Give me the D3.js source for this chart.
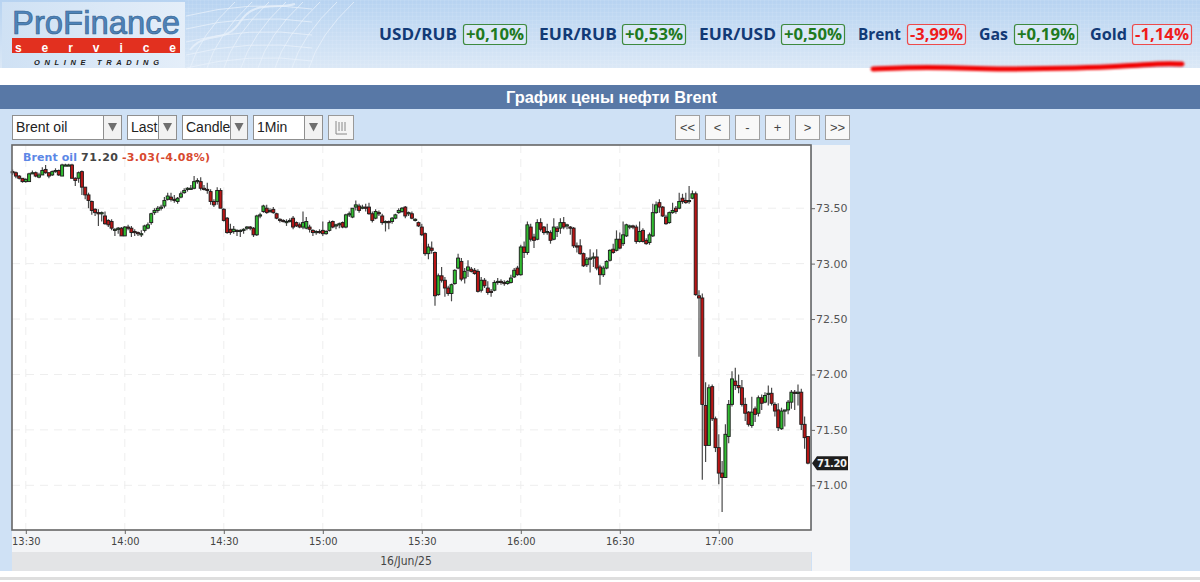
<!DOCTYPE html>
<html><head><meta charset="utf-8">
<script src="https://cdn.jsdelivr.net/npm/d3@7"></script>
<style>html,body{margin:0;padding:0;background:#fff;overflow:hidden}svg{display:block}</style>
</head><body><svg id="c" width="1200" height="582"></svg>
<script>
const tickerNames=["USD/RUB","EUR/RUB","EUR/USD","Brent","Gas","Gold"];
const tickerChanges=["+0,10%","+0,53%","+0,50%","-3,99%","+0,19%","-1,14%"];
const selectLabels=["Brent oil","Last","Candle","1Min"];
const navLabels=["<<","<","-","+",">",">>"];
const priceTicks=[73.5,73,72.5,72,71.5,71];
const timeTicks=["13:30","14:00","14:30","15:00","15:30","16:00","16:30","17:00"];
const firstMinute="13:26";
const opens=[73.83,73.82,73.79,73.77,73.74,73.74,73.81,73.82,73.78,73.80,
73.85,73.82,73.80,73.83,73.84,73.79,73.89,73.89,73.89,73.77,
73.77,73.83,73.69,73.62,73.56,73.49,73.46,73.45,73.43,73.39,
73.38,73.31,73.31,73.32,73.25,73.33,73.32,73.29,73.28,73.27,
73.30,73.32,73.37,73.46,73.48,73.50,73.52,73.58,73.60,73.58,
73.56,73.60,73.64,73.67,73.68,73.68,73.74,73.74,73.68,73.67,
73.65,73.56,73.56,73.66,73.49,73.41,73.31,73.29,73.30,73.29,
73.30,73.32,73.33,73.32,73.26,73.43,73.47,73.50,73.48,73.49,
73.45,73.40,73.39,73.38,73.38,73.41,73.37,73.35,73.33,73.32,
73.33,73.30,73.28,73.29,73.30,73.27,73.30,73.38,73.34,73.35,
73.37,73.33,73.44,73.42,73.51,73.52,73.50,73.51,73.51,73.45,
73.41,73.46,73.43,73.37,73.38,73.38,73.41,73.46,73.47,73.51,
73.45,73.45,73.40,73.37,73.33,73.27,73.09,73.14,73.10,72.72,
72.89,72.85,72.78,72.73,72.82,72.96,73.02,72.87,72.94,72.95,
72.94,72.93,72.76,72.85,72.78,72.75,72.76,72.83,72.84,72.83,
72.82,72.83,72.88,72.96,72.90,73.15,73.10,73.33,73.24,73.22,
73.37,73.33,73.29,73.28,73.22,73.32,73.32,73.37,73.34,73.33,
73.32,73.16,73.16,73.09,72.99,73.04,73.05,73.06,72.97,72.90,
72.96,73.03,73.13,73.12,73.22,73.18,73.25,73.33,73.34,73.33,
73.20,73.30,73.21,73.19,73.25,73.46,73.55,73.51,73.42,73.37,
73.46,73.50,73.50,73.59,73.57,73.56,73.59,73.63,72.71,72.69,
71.72,71.36,71.89,71.60,71.34,71.11,71.07,71.44,71.73,71.94,
71.90,71.88,71.73,71.66,71.54,71.69,71.65,71.79,71.75,71.82,
71.83,71.73,71.68,71.51,71.67,71.68,71.75,71.84,71.83,71.84,71.55,71.44];
const highs=[73.85,73.83,73.80,73.77,73.77,73.82,73.84,73.83,73.82,73.87,
73.89,73.82,73.84,73.86,73.85,73.90,73.90,73.90,73.90,73.78,
73.83,73.84,73.69,73.64,73.57,73.50,73.49,73.47,73.47,73.40,
73.40,73.32,73.33,73.33,73.34,73.35,73.34,73.31,73.29,73.30,
73.35,73.37,73.46,73.50,73.52,73.53,73.60,73.64,73.64,73.62,
73.60,73.65,73.68,73.69,73.71,73.79,73.77,73.78,73.71,73.73,
73.67,73.58,73.69,73.68,73.50,73.42,73.36,73.34,73.31,73.31,
73.32,73.34,73.34,73.33,73.44,73.46,73.53,73.53,73.50,73.51,
73.46,73.41,73.40,73.40,73.41,73.43,73.38,73.37,73.47,73.42,
73.35,73.31,73.30,73.31,73.38,73.30,73.39,73.39,73.36,73.37,
73.38,73.45,73.47,73.50,73.57,73.54,73.53,73.54,73.55,73.47,
73.49,73.48,73.45,73.39,73.39,73.42,73.45,73.50,73.51,73.52,
73.47,73.47,73.41,73.38,73.36,73.28,73.18,73.20,73.11,72.91,
72.97,72.88,72.80,72.82,72.95,73.09,73.05,72.96,73.03,72.97,
72.96,72.95,72.88,72.87,72.84,72.77,72.85,72.87,72.86,72.85,
72.85,72.90,72.96,72.98,73.17,73.20,73.38,73.36,73.27,73.40,
73.41,73.34,73.36,73.30,73.41,73.34,73.41,73.42,73.36,73.34,
73.33,73.19,73.22,73.10,73.06,73.13,73.10,73.13,72.99,72.98,
73.03,73.13,73.18,73.30,73.28,73.38,73.36,73.35,73.35,73.35,
73.38,73.32,73.23,73.28,73.54,73.56,73.58,73.52,73.44,73.47,
73.55,73.52,73.64,73.63,73.64,73.70,73.66,73.65,72.76,72.73,
71.93,71.91,71.91,71.62,71.46,71.22,71.55,71.77,72.03,72.06,
72.00,71.95,71.79,71.67,71.80,71.71,71.81,71.82,71.84,71.90,
71.88,71.75,71.74,71.70,71.68,71.77,71.86,71.86,71.91,71.87,71.62,71.44];
const lows=[73.80,73.77,73.76,73.73,73.73,73.74,73.81,73.78,73.77,73.80,
73.81,73.77,73.79,73.82,73.79,73.79,73.88,73.88,73.77,73.70,
73.73,73.62,73.58,73.50,73.44,73.43,73.34,73.38,73.35,73.33,
73.30,73.25,73.27,73.25,73.25,73.30,73.24,73.25,73.25,73.24,
73.28,73.31,73.35,73.44,73.46,73.48,73.50,73.57,73.56,73.55,
73.54,73.59,73.63,73.65,73.67,73.67,73.72,73.66,73.66,73.63,
73.53,73.51,73.53,73.50,73.38,73.27,73.26,73.27,73.25,73.24,
73.27,73.30,73.30,73.24,73.25,73.41,73.46,73.45,73.46,73.45,
73.40,73.37,73.37,73.34,73.37,73.31,73.33,73.32,73.31,73.31,
73.28,73.25,73.26,73.27,73.25,73.26,73.29,73.32,73.31,73.32,
73.32,73.32,73.42,73.41,73.48,73.46,73.49,73.47,73.44,73.37,
73.40,73.43,73.35,73.29,73.31,73.36,73.40,73.45,73.46,73.41,
73.43,73.40,73.38,73.33,73.25,73.07,73.04,73.09,72.62,72.71,
72.83,72.70,72.71,72.66,72.81,72.95,72.84,72.82,72.88,72.92,
72.90,72.74,72.74,72.78,72.72,72.70,72.75,72.81,72.81,72.80,
72.81,72.82,72.87,72.89,72.89,73.05,73.08,73.20,73.14,73.21,
73.29,73.26,73.26,73.18,73.21,73.24,73.27,73.31,73.31,73.26,
73.14,73.10,73.08,72.97,72.97,72.92,72.97,72.94,72.81,72.88,
72.95,73.02,73.09,73.11,73.13,73.16,73.24,73.31,73.31,73.18,
73.19,73.19,73.17,73.17,73.24,73.45,73.46,73.42,73.35,73.36,
73.45,73.45,73.49,73.54,73.54,73.54,73.58,72.71,72.16,71.05,
71.21,71.36,71.58,71.30,71.01,70.76,71.07,71.38,71.71,71.86,
71.83,71.71,71.58,71.53,71.52,71.57,71.62,71.68,71.74,71.72,
71.72,71.62,71.49,71.50,71.53,71.64,71.69,71.68,71.72,71.50,71.33,71.19];
const closes=[73.82,73.79,73.77,73.74,73.76,73.81,73.82,73.79,73.80,73.84,
73.82,73.79,73.83,73.84,73.80,73.89,73.89,73.89,73.77,73.75,
73.82,73.69,73.62,73.57,73.48,73.46,73.45,73.46,73.36,73.35,
73.32,73.31,73.32,73.25,73.33,73.32,73.28,73.28,73.27,73.27,
73.34,73.35,73.45,73.48,73.50,73.51,73.57,73.61,73.58,73.57,
73.59,73.63,73.66,73.68,73.68,73.74,73.75,73.68,73.67,73.66,
73.56,73.53,73.66,73.50,73.39,73.28,73.28,73.31,73.29,73.30,
73.31,73.33,73.32,73.26,73.43,73.44,73.52,73.46,73.48,73.46,
73.41,73.39,73.38,73.38,73.39,73.33,73.34,73.33,73.37,73.38,
73.31,73.28,73.29,73.28,73.27,73.29,73.37,73.33,73.35,73.36,
73.33,73.44,73.45,73.50,73.53,73.48,73.51,73.50,73.45,73.39,
73.47,73.45,73.37,73.38,73.37,73.41,73.44,73.48,73.50,73.43,
73.46,73.41,73.40,73.34,73.26,73.09,73.15,73.12,72.71,72.89,
72.85,72.78,72.73,72.81,72.94,73.05,72.86,72.93,72.97,72.93,
72.91,72.75,72.85,72.80,72.74,72.74,72.83,72.84,72.83,72.82,
72.84,72.87,72.94,72.90,73.15,73.10,73.35,73.22,73.21,73.37,
73.31,73.28,73.29,73.21,73.33,73.29,73.37,73.33,73.35,73.32,
73.16,73.15,73.09,72.98,73.04,73.05,73.06,72.96,72.90,72.96,
73.02,73.12,73.10,73.22,73.14,73.26,73.35,73.34,73.33,73.20,
73.29,73.20,73.18,73.26,73.46,73.53,73.51,73.43,73.36,73.46,
73.48,73.47,73.56,73.56,73.55,73.57,73.63,72.72,72.69,71.73,
71.36,71.88,71.60,71.34,71.11,71.07,71.46,71.73,71.96,71.90,
71.88,71.73,71.65,71.55,71.66,71.64,71.79,71.74,71.81,71.83,
71.74,71.67,71.52,71.67,71.68,71.75,71.84,71.83,71.84,71.55,71.43,71.20];

const svg=d3.select("#c");
const defs=svg.append("defs");
const hg=defs.append("linearGradient").attr("id","hg").attr("x1",0).attr("x2",0).attr("y1",0).attr("y2",1);
hg.append("stop").attr("offset",0).attr("stop-color","#b7d3f1");
hg.append("stop").attr("offset",1).attr("stop-color","#dbe8f6");
const lg=defs.append("linearGradient").attr("id","lg").attr("x1",0).attr("x2",1).attr("y1",0).attr("y2",0);
lg.append("stop").attr("offset",0).attr("stop-color","#cfe1f4");
lg.append("stop").attr("offset",1).attr("stop-color","#e4eef9");
const pat=defs.append("pattern").attr("id","gridp").attr("width",4).attr("height",4).attr("patternUnits","userSpaceOnUse");
pat.append("path").attr("d","M0 0H4M0 0V4").attr("stroke","#fff").attr("stroke-opacity",.14).attr("stroke-width",1);
defs.append("filter").attr("id","soft").attr("filterUnits","userSpaceOnUse").attr("x",850).attr("y",50).attr("width",350).attr("height",30)
  .append("feGaussianBlur").attr("stdDeviation",.8);
defs.append("filter").attr("id","soft2").attr("filterUnits","userSpaceOnUse").attr("x",0).attr("y",140).attr("width",820).attr("height",400)
  .append("feGaussianBlur").attr("stdDeviation",.3);

// header
svg.append("rect").attr("width",1200).attr("height",68).attr("fill","url(#hg)");
svg.append("rect").attr("x",185).attr("width",1015).attr("height",68).attr("fill","url(#gridp)");
svg.append("rect").attr("x",2).attr("y",2).attr("width",183).attr("height",66).attr("fill","url(#lg)");
const mapG=svg.append("g").attr("fill","none").attr("stroke","#eaf2fb").attr("stroke-opacity",.75).attr("stroke-width",1);
const mapLines=d3.range(190,320,17);
mapG.selectAll("path.a").data(mapLines).join("path").attr("d",d=>`M${d} 68Q${d+10} 35 ${d+45} 2`);
mapG.selectAll("path.b").data(d3.range(6,70,13)).join("path").attr("d",d=>`M186 ${d+10}Q250 ${d-6} 312 ${d+3}`);
mapG.append("path").attr("d","M190 50C205 30 225 45 240 22S275 10 295 4").attr("stroke-width",2);

// logo
svg.append("text").attr("x",12).attr("y",33.5).attr("font-family","Liberation Sans").attr("font-size",34)
  .attr("textLength",168).attr("lengthAdjust","spacingAndGlyphs").attr("fill","#4e83ba").attr("stroke","#37648f").attr("stroke-width",.7).text("ProFinance");
svg.append("rect").attr("x",12).attr("y",38).attr("width",168).attr("height",15).attr("fill","#e2301f");
svg.append("text").attr("x",15).attr("y",51.7).attr("font-family","Liberation Sans").attr("font-weight",700).attr("font-size",12)
  .attr("textLength",161).attr("fill","#fff").text("service");
svg.append("text").attr("x",34).attr("y",65).attr("font-family","Liberation Sans").attr("font-weight",700).attr("font-style","italic").attr("font-size",7.5)
  .attr("textLength",125).attr("fill","#222").text("ONLINE TRADING");

// ticker strip
const nameX=[[379,457],[539,617],[699,776],[858,901],[979,1008],[1090,1127]];
const boxX=[[463,527],[622,686],[781,845],[907,966],[1014,1078],[1132,1192]];
tickerNames.forEach((n,i)=>{
  const up=tickerChanges[i][0]==="+";
  svg.append("text").attr("x",nameX[i][0]).attr("y",40).attr("font-family","Open Sans").attr("font-weight",700).attr("font-size",16.5)
    .attr("textLength",nameX[i][1]-nameX[i][0]).attr("lengthAdjust","spacingAndGlyphs").attr("fill","#123a76").text(n);
  svg.append("rect").attr("x",boxX[i][0]+.5).attr("y",24.5).attr("width",boxX[i][1]-boxX[i][0]-1).attr("height",20).attr("rx",2.5)
    .attr("fill","#e6effa").attr("fill-opacity",.6).attr("stroke",up?"#3f8a3f":"#ee4a4a").attr("stroke-width",1.2);
  svg.append("text").attr("x",boxX[i][0]+3).attr("y",40).attr("font-family","Open Sans").attr("font-weight",700).attr("font-size",16)
    .attr("textLength",boxX[i][1]-boxX[i][0]-6).attr("lengthAdjust","spacingAndGlyphs").attr("fill",up?"#1f7a1f":"#ef1c1c").text(tickerChanges[i]);
});

// title bar and panel
svg.append("rect").attr("y",85).attr("width",1200).attr("height",24).attr("fill","#5878a6");
svg.append("text").attr("x",506).attr("y",103).attr("font-family","Liberation Sans").attr("font-weight",700).attr("font-size",16)
  .attr("textLength",211).attr("lengthAdjust","spacingAndGlyphs").attr("fill","#fff").text("График цены нефти Brent");
svg.append("rect").attr("y",109).attr("width",1200).attr("height",462).attr("fill","#cfe1f5");
svg.append("rect").attr("y",577).attr("width",1200).attr("height",3).attr("fill","#dedede");

// toolbar
const selX=[[12,122,103],[127,177,158],[182,248,230],[253,323,304]];
selectLabels.forEach((s,i)=>{
  const [a,b,m]=selX[i];
  svg.append("rect").attr("x",a+.5).attr("y",115.5).attr("width",b-a-1).attr("height",24).attr("fill","#fff").attr("stroke","#8f8f8f");
  svg.append("text").attr("x",a+4).attr("y",132).attr("font-family","Liberation Sans").attr("font-size",14).attr("fill","#222").text(s);
  svg.append("rect").attr("x",m+.5).attr("y",115.5).attr("width",b-m-1).attr("height",24).attr("fill","#f2f2f2").attr("stroke","#8f8f8f");
  const c=(m+b)/2;
  svg.append("path").attr("d",`M${c-4.5} 123H${c+4.5}L${c} 131.5Z`).attr("fill","#6e6e6e");
});
svg.append("rect").attr("x",328.5).attr("y",115.5).attr("width",25).attr("height",24).attr("fill","#f5f5f5").attr("stroke","#999");
svg.append("path").attr("d","M336 121V134H347M339 122V131M342 122V131M345 122V131").attr("fill","none").attr("stroke","#888");
const navX=[675,705,735,765,795,825];
navLabels.forEach((s,i)=>{
  svg.append("rect").attr("x",navX[i]+.5).attr("y",115.5).attr("width",24).attr("height",24).attr("fill","#f8f8f8").attr("stroke","#a0a0a0");
  svg.append("text").attr("x",navX[i]+12.5).attr("y",132).attr("text-anchor","middle").attr("font-family","Liberation Sans").attr("font-size",13).attr("fill","#444").text(s);
});

// chart frame
const L=12,R=811,T=145,B=530;
svg.append("rect").attr("x",812).attr("y",T).attr("width",38).attr("height",426).attr("fill","#f3f4f6");
svg.append("rect").attr("x",L).attr("y",530).attr("width",800).attr("height",22).attr("fill","#f3f4f6");
svg.append("rect").attr("x",L).attr("y",552).attr("width",799).attr("height",19).attr("fill","#e3e4e6");
svg.append("rect").attr("x",L).attr("y",T).attr("width",R-L).attr("height",B-T).attr("fill","#fff");

const parse=d3.timeParse("%H:%M");
const t0=parse(firstMinute);
const times=opens.map((_,i)=>d3.timeMinute.offset(t0,i));
const x=d3.scaleTime().domain([t0,times[times.length-1]]).range([12.6,12.6+3.3*(times.length-1)]);
const y=d3.scaleLinear().domain([71,73.5]).range([485.3,208.2]);
const tickDates=timeTicks.map(parse);

const grid=svg.append("g").attr("stroke","#eeeeee").attr("stroke-dasharray","8 6").attr("stroke-width",1);
grid.selectAll("line.h").data(priceTicks).join("line").attr("x1",L).attr("x2",R).attr("y1",d=>y(d)).attr("y2",d=>y(d));
grid.selectAll("line.v").data(tickDates).join("line").attr("y1",T).attr("y2",B).attr("x1",d=>x(d)).attr("x2",d=>x(d));

// candles
const cg=svg.append("g").attr("filter","url(#soft2)");
const idx=d3.range(opens.length);
cg.selectAll("line").data(idx).join("line")
  .attr("x1",i=>x(times[i])).attr("x2",i=>x(times[i]))
  .attr("y1",i=>y(highs[i])).attr("y2",i=>y(lows[i]))
  .attr("stroke","#4a4a4a").attr("stroke-width",1.2);
cg.selectAll("rect").data(idx).join("rect")
  .attr("x",i=>x(times[i])-1.5).attr("width",3)
  .attr("y",i=>y(Math.max(opens[i],closes[i])))
  .attr("height",i=>Math.max(1.2,Math.abs(y(opens[i])-y(closes[i]))))
  .attr("fill",i=>closes[i]>=opens[i]?"#30bb30":"#b81414")
  .attr("stroke","#1c1c1c").attr("stroke-width",.9);

// frame lines
svg.append("rect").attr("x",L).attr("y",T).attr("width",R-L).attr("height",B-T).attr("fill","none").attr("stroke","#666").attr("stroke-width",1.6);

// axes
const yAxis=d3.axisRight(y).tickValues(priceTicks).tickSize(4).tickPadding(1).tickFormat(d3.format(".2f"));
const ya=svg.append("g").attr("transform",`translate(${R},0)`).call(yAxis);
ya.select(".domain").remove();
ya.selectAll("line").attr("stroke","#666");
ya.selectAll("text").attr("font-family","DejaVu Sans").attr("font-size",11).attr("fill","#555");
const xAxis=d3.axisBottom(x).tickValues(tickDates).tickSize(4).tickPadding(3).tickFormat(d3.timeFormat("%H:%M"));
const xa=svg.append("g").attr("transform",`translate(0,${B})`).call(xAxis);
xa.select(".domain").remove();
xa.selectAll("line").attr("stroke","#666");
xa.selectAll("text").attr("font-family","DejaVu Sans Condensed, DejaVu Sans").attr("font-size",11).attr("fill","#444");
svg.append("text").attr("x",406).attr("y",565).attr("text-anchor","middle").attr("font-family","DejaVu Sans Condensed, DejaVu Sans").attr("font-size",12).attr("fill","#444").text("16/Jun/25");

// last price flag
const lastY=y(closes[closes.length-1]);
svg.append("path").attr("d",`M812 ${lastY}L817 ${lastY-7}H848V${lastY+7}H817Z`).attr("fill","#1d1d1d");
svg.append("text").attr("x",817).attr("y",lastY+4).attr("font-family","DejaVu Sans").attr("font-weight",700).attr("font-size",10).attr("textLength",30).attr("fill","#f0f0f0").text(d3.format(".2f")(closes[closes.length-1]));

// legend
svg.append("text").attr("x",23).attr("y",161).attr("font-family","DejaVu Sans").attr("font-weight",700).attr("font-size",11).attr("textLength",54).attr("fill","#5c87e6").text("Brent oil");
svg.append("text").attr("x",81).attr("y",161).attr("font-family","DejaVu Sans").attr("font-size",11).attr("textLength",37).attr("font-weight",600).attr("fill","#444").text("71.20");
svg.append("text").attr("x",122).attr("y",161).attr("font-family","DejaVu Sans").attr("font-size",11).attr("textLength",88).attr("font-weight",600).attr("fill","#d8492f").text("-3.03(-4.08%)");

// hand-drawn underline
const under=[[873,69],[905,67.5],[950,67.5],[985,69],[1030,69],[1075,68],[1120,66.5],[1160,63.5],[1182,64]];
svg.append("path").attr("d",d3.line().curve(d3.curveBasis)(under)).attr("fill","none").attr("stroke","#f20000").attr("stroke-width",5).attr("stroke-linecap","round").attr("filter","url(#soft)");
</script></body></html>
